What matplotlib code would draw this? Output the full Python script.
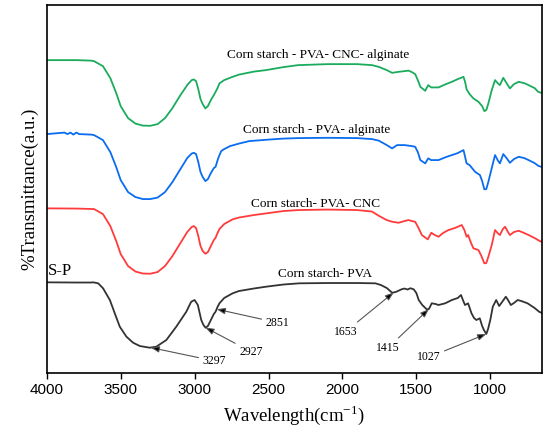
import numpy as np
import matplotlib
matplotlib.use("Agg")
import matplotlib.pyplot as plt

plt.rcParams['mathtext.fontset'] = 'custom'
plt.rcParams['mathtext.rm'] = 'Liberation Serif'

SERIF = 'Liberation Serif'
SANS = 'Liberation Sans'

# ---- data (wavenumber, arbitrary transmittance units) ----
black_wn = [4000, 3800, 3700, 3686, 3652, 3619, 3573, 3540, 3506, 3461, 3416, 3371, 3304, 3259,
            3191, 3124, 3056, 3023, 3000, 2978, 2955, 2940, 2926, 2910, 2890, 2870, 2858,
            2845, 2832, 2800, 2743, 2700, 2600, 2518, 2400, 2293, 2100, 1900, 1777, 1740, 1700,
            1664, 1640, 1600, 1580, 1560, 1540, 1518, 1500, 1484, 1460, 1430, 1415, 1396, 1370,
            1350, 1305, 1260, 1220, 1198, 1185, 1171, 1150, 1127, 1110, 1094, 1071, 1055, 1043,
            1027, 1015, 1000, 983, 960, 940, 920, 895, 880, 861, 840, 815, 790, 748, 700, 670, 650]
black_t = [90.7, 90.5, 90.5, 90.7, 89.7, 84.7, 73, 59.7, 46.3, 36.3, 30.3, 27, 25.3, 26.3,
           33, 46.3, 61.3, 71.3, 73, 68, 53, 48, 45.3, 47, 53, 59, 61.3,
           66, 69.7, 75, 79.7, 82, 84.5, 86.3, 88.5, 89.7, 90, 90, 89.7, 88, 85,
           80.3, 81, 83.7, 84.5, 83.5, 84.8, 83.7, 80, 73, 68, 63.7, 64, 69.7, 69,
           68, 69.7, 73, 75, 78, 73, 68, 69.7, 59.7, 55, 53, 54.7, 47, 43,
           39, 44, 53, 66.3, 73, 67, 71, 76.3, 73, 68, 70, 73, 72, 69.7, 65, 61.3, 60]

red_wn = [4000, 3800, 3680, 3620, 3570, 3530, 3500, 3450, 3400, 3350, 3300, 3250, 3200, 3150,
          3100, 3050, 3020, 3006, 2990, 2975, 2960, 2945, 2927, 2910, 2890, 2870, 2858, 2845,
          2832, 2800, 2743, 2700, 2600, 2500, 2400, 2300, 2100, 1900, 1800, 1751, 1700, 1664,
          1620, 1580, 1553, 1530, 1508, 1485, 1463, 1423, 1399, 1375, 1350, 1320, 1283, 1240,
          1193, 1175, 1160, 1150, 1130, 1114, 1080, 1060, 1040, 1027, 1013, 990, 968, 950,
          935, 915, 900, 880, 867, 840, 808, 770, 740, 700, 669, 650]
red_t = [164.7, 164.5, 164, 159, 147, 132, 119, 107, 101.5, 99.5, 99.3, 101, 107, 117,
         129, 141, 146, 147, 145, 137, 127, 122, 119.3, 121, 127, 133, 135.3, 140,
         144, 149, 153.7, 155.5, 158, 160, 162, 163, 163.5, 163, 161.5, 157, 153, 151.3,
         150.3, 152, 153, 152, 151.3, 145, 138, 133.7, 140.3, 138, 136.3, 140, 143, 145,
         148, 143, 136.3, 138, 130, 124.7, 123, 117, 109.7, 110, 116.3, 128, 143, 140,
         138, 144, 146.3, 141, 138, 141, 142.3, 140, 138, 135, 132.3, 131]

blue_wn = [4000, 3880, 3860, 3840, 3820, 3800, 3780, 3700, 3680, 3620, 3570, 3530, 3500, 3450,
           3400, 3350, 3300, 3250, 3200, 3150, 3100, 3050, 3020, 3006, 2990, 2975, 2960, 2945,
           2927, 2910, 2890, 2870, 2858, 2840, 2820, 2800, 2760, 2700, 2630, 2500, 2400, 2300,
           2100, 1900, 1800, 1755, 1700, 1664, 1630, 1580, 1530, 1508, 1490, 1473, 1440, 1420,
           1400, 1350, 1300, 1260, 1220, 1181, 1170, 1160, 1140, 1103, 1070, 1055, 1040, 1027,
           1013, 990, 968, 950, 935, 912, 890, 867, 840, 808, 770, 741, 700, 676, 650]
blue_t = [239, 240.5, 239, 240.5, 238.5, 240.5, 239, 238.5, 238, 233, 221, 206, 193, 181,
          176, 174, 174, 175.5, 181, 191, 203, 215, 219.5, 220.3, 219, 211, 201, 196,
          192, 194, 200, 205, 206.3, 215, 222, 224, 227, 229.5, 232, 233.5, 234.5, 235,
          235.3, 235, 234, 232.5, 228, 224.7, 228, 228, 227, 226.3, 221, 213, 209.7, 214.7,
          213, 213, 216, 218, 220, 223, 216, 209.7, 208, 201.3, 198, 192, 183.7, 184,
          191.3, 205, 218, 213, 209.7, 219, 215, 210.3, 214, 216.3, 215, 213, 210, 207.3, 206]

green_wn = [4000, 3800, 3700, 3680, 3620, 3570, 3530, 3500, 3450, 3400, 3350, 3300, 3250, 3200,
            3150, 3100, 3050, 3020, 3006, 2990, 2975, 2960, 2945, 2927, 2910, 2890, 2870, 2858,
            2845, 2832, 2800, 2743, 2700, 2600, 2518, 2400, 2300, 2100, 1900, 1800, 1755, 1700,
            1664, 1620, 1580, 1553, 1530, 1508, 1490, 1473, 1440, 1420, 1400, 1350, 1300, 1260,
            1220, 1181, 1170, 1160, 1140, 1114, 1080, 1055, 1040, 1027, 1013, 990, 968, 950,
            935, 912, 890, 867, 840, 808, 770, 741, 700, 676, 650]
green_t = [313, 313, 312.5, 312, 307, 295, 280, 267, 255, 249.5, 247.5, 247.3, 249, 255,
           265, 277, 288, 293, 293.7, 292, 284, 274, 269, 264.7, 267, 273, 278, 281.3,
           285, 289.7, 293, 296.3, 298.5, 301.5, 303, 306, 308, 309, 309, 308, 306.3, 303,
           300.3, 301.3, 302, 302.5, 301, 299, 293, 286.3, 282.3, 288, 285.7, 285.7, 289, 291.3,
           294, 296.3, 291, 283.7, 279, 274.7, 271.3, 267, 262, 263, 269.7, 283, 293, 290,
           288, 295.3, 290, 284.7, 289, 291.3, 290, 288, 285, 281.3, 280]

series_labels = ["Corn starch- PVA", "Corn starch- PVA- CNC",
                 "Corn starch - PVA- alginate", "Corn starch - PVA- CNC- alginate"]
peak_wn = [3297, 2927, 2851, 1653, 1415, 1027]
xticks = [4000, 3500, 3000, 2500, 2000, 1500, 1000]

# ---- figure ----
fig = plt.figure(figsize=(5.5, 4.3), dpi=100)
ax = fig.add_axes([0.085, 0.1326, 0.9005, 0.8554])

ax.plot(black_wn, black_t, color='#333333', lw=1.3)
ax.plot(red_wn, red_t, color='#ff3b3b', lw=1.3)
ax.plot(blue_wn, blue_t, color='#0a6cf0', lw=1.3)
ax.plot(green_wn, green_t, color='#1aac5c', lw=1.3)

ax.set_xlim(4000, 650)
ax.set_ylim(0, 368)
ax.set_yticks([])
ax.set_xticks(xticks)
ax.set_xticklabels([str(v) for v in xticks], fontfamily=SANS, fontsize=11)
ax.tick_params(axis='x', direction='out', length=4, width=1)
for s in ax.spines.values():
    s.set_linewidth(1.2)

ax.set_xlabel(r'Wavelength(cm$^{\mathregular{-1}}$)', fontfamily=SERIF, fontsize=13.5, labelpad=4)
ax.set_ylabel('%Transmittance(a.u.)', fontfamily=SERIF, fontsize=13.5, labelpad=6)

# series labels
lab_pos = [(2118, 99), (2185, 169), (2175, 242.7), (2167, 318)]
for (x, y), t in zip(lab_pos, series_labels):
    ax.text(x, y, t, fontfamily=SERIF, fontsize=9.5, ha='center', va='center')
ax.text(3991, 102.3, 'S-P', fontfamily=SERIF, fontsize=12, ha='left', va='center')

# peak annotations
txt_pos = [(2866, 12), (2619, 21.3), (2439, 50.3), (1979, 41.3), (1691, 25.3), (1417, 15.7)]
for p, (tx, ty) in zip(peak_wn, txt_pos):
    py = np.interp(-p, -np.array(black_wn), np.array(black_t))
    ax.annotate(str(p), xy=(p, py), xytext=(tx, ty), fontfamily=SERIF, fontsize=8.5,
                ha='center', va='center',
                arrowprops=dict(arrowstyle='-|>,head_length=0.6,head_width=0.22',
                                fc='black', ec='#555555', lw=0.8, shrinkA=1, shrinkB=0))

fig.savefig('out.png', dpi=100)
